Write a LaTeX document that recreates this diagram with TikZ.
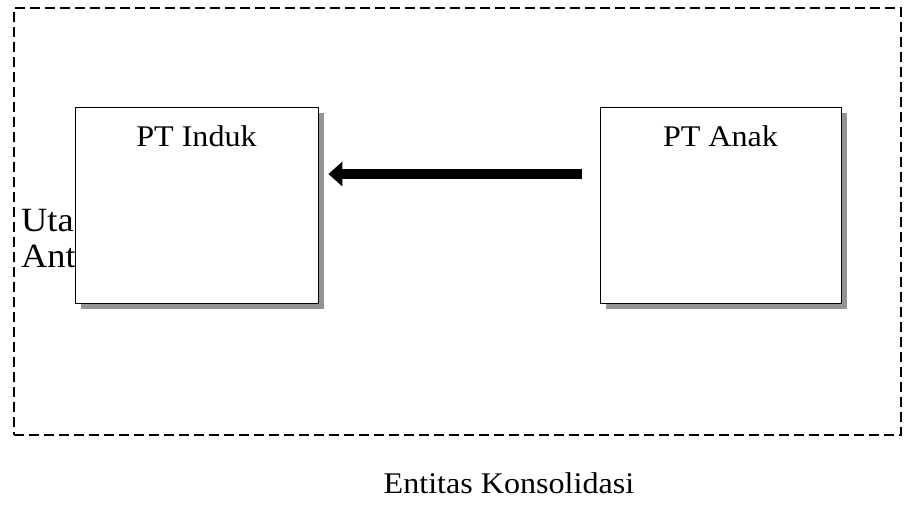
\documentclass[tikz,border=0pt]{standalone}
\usepackage{fontspec}
\setmainfont{Liberation Serif}[FakeStretch=1.07]
\usetikzlibrary{arrows.meta,shadows}
\begin{document}
\begin{tikzpicture}[x=1pt,y=-1pt,
  entbox/.style={draw=black, line width=0.8pt, fill=white, inner sep=0pt,
    drop shadow={shadow xshift=6pt, shadow yshift=-6pt, fill=black!42, opacity=1}},
  boxtitle/.style={font=\fontsize{30}{36}\selectfont, anchor=base},
  bigtext/.style={font=\fontsize{30}{36}\selectfont},
  sidetext/.style={font=\fontsize{34}{36}\selectfont},
  frame/.style={draw=black, line width=2.2pt, dash pattern=on 10pt off 5pt},
  flow/.style={line width=10pt, -{Triangle[length=14pt,width=24pt]}}]
\useasboundingbox (0,0) rectangle (904,504);
\node[frame, minimum width=887pt, minimum height=427pt, inner sep=0pt] (outer) at (457.5,221.5) {};
\node[sidetext, anchor=base west, align=left, inner sep=0pt] (uta) at (21,267) {Uta\\Ant};
\node[entbox, minimum width=243pt, minimum height=196pt,
  label={[boxtitle, yshift=-40pt]north:PT Induk}] (induk) at (196.5,205) {};
\node[entbox, minimum width=241pt, minimum height=196pt,
  label={[boxtitle, yshift=-40pt]north:PT Anak}] (anak) at (720.5,205) {};
\draw[flow, shorten <=18pt, shorten >=10pt] ([yshift=31pt]anak.west) -- ([yshift=31pt]induk.east);
\node[bigtext, anchor=base, inner sep=0pt] (ent) at (509,493) {Entitas Konsolidasi};
\end{tikzpicture}
\end{document}
